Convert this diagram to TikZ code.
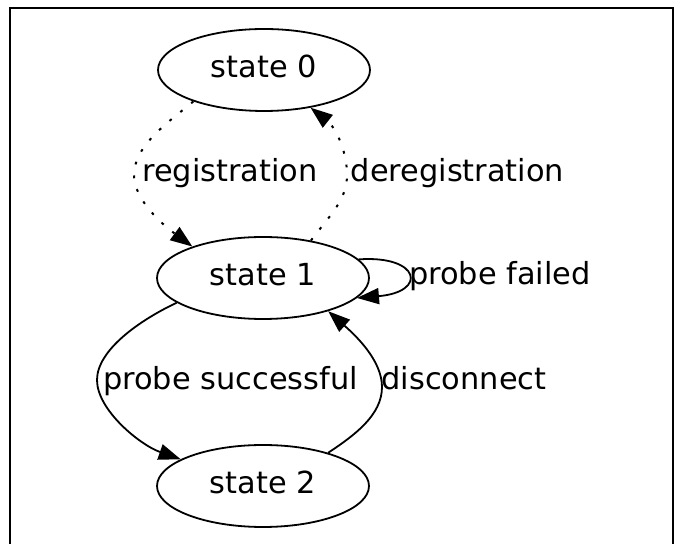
\documentclass[tikz,border=0pt]{standalone}
\usepackage{fontspec}
\setmainfont{DejaVu Sans}
\usetikzlibrary{arrows.meta,shapes.geometric}
\begin{document}
\begin{tikzpicture}[x=0.5pt,y=-0.5pt,
  state/.style={draw, ellipse, line width=0.9pt, minimum width=106pt, minimum height=41pt,
    inner sep=0pt, text height=11.1pt, text depth=4pt, font=\fontsize{15.2}{18}\selectfont},
  lbl/.style={anchor=base, inner sep=0pt, font=\fontsize{15.2}{18}\selectfont},
  edge/.style={line width=0.9pt, -{Triangle[length=11pt,width=8pt]}},
  dots/.style={line width=1pt, dash pattern=on 1.4pt off 5.6pt}
]
\useasboundingbox (0,0) rectangle (681,544);
\draw[line width=1.2pt] (10,544) -- (10,8) -- (673,8) -- (673,544);
\node[state] (s0) at (264,70) {state 0};
\node[state] (s1) at (263,278) {state 1};
\node[state] (s2) at (263,486) {state 2};
% registration
\draw[edge,dots] (s0.204.3) .. controls (170,121) and (134,145) .. (134,175)
  .. controls (134,200) and (163,225) .. (s1.156.1);
% deregistration
\draw[edge,dots] (s1.38.5) .. controls (330,215) and (347,200) .. (347,175)
  .. controls (347,150) and (335,127) .. (s0.321.6);
% probe failed
\draw[edge] (s1.11.9) .. controls (420,255) and (428,292) .. (s1.348.1);
% probe successful
\draw[edge] (s1.196.2) .. controls (140,320) and (97,350) .. (97,380)
  .. controls (97,410) and (140,445) .. (s2.162.2);
% disconnect
\draw[edge] (s2.27.3) .. controls (355,435) and (382,415) .. (382,387)
  .. controls (382,360) and (355,335) .. (s1.333.1);
\node[lbl] (l1) at (230,182) {registration};
\node[lbl] (l2) at (457.5,182) {deregistration};
\node[lbl] (l3) at (500,285) {probe failed};
\node[lbl] (l4) at (230.5,390) {probe successful};
\node[lbl] (l5) at (464,390) {disconnect};
\end{tikzpicture}
\end{document}
